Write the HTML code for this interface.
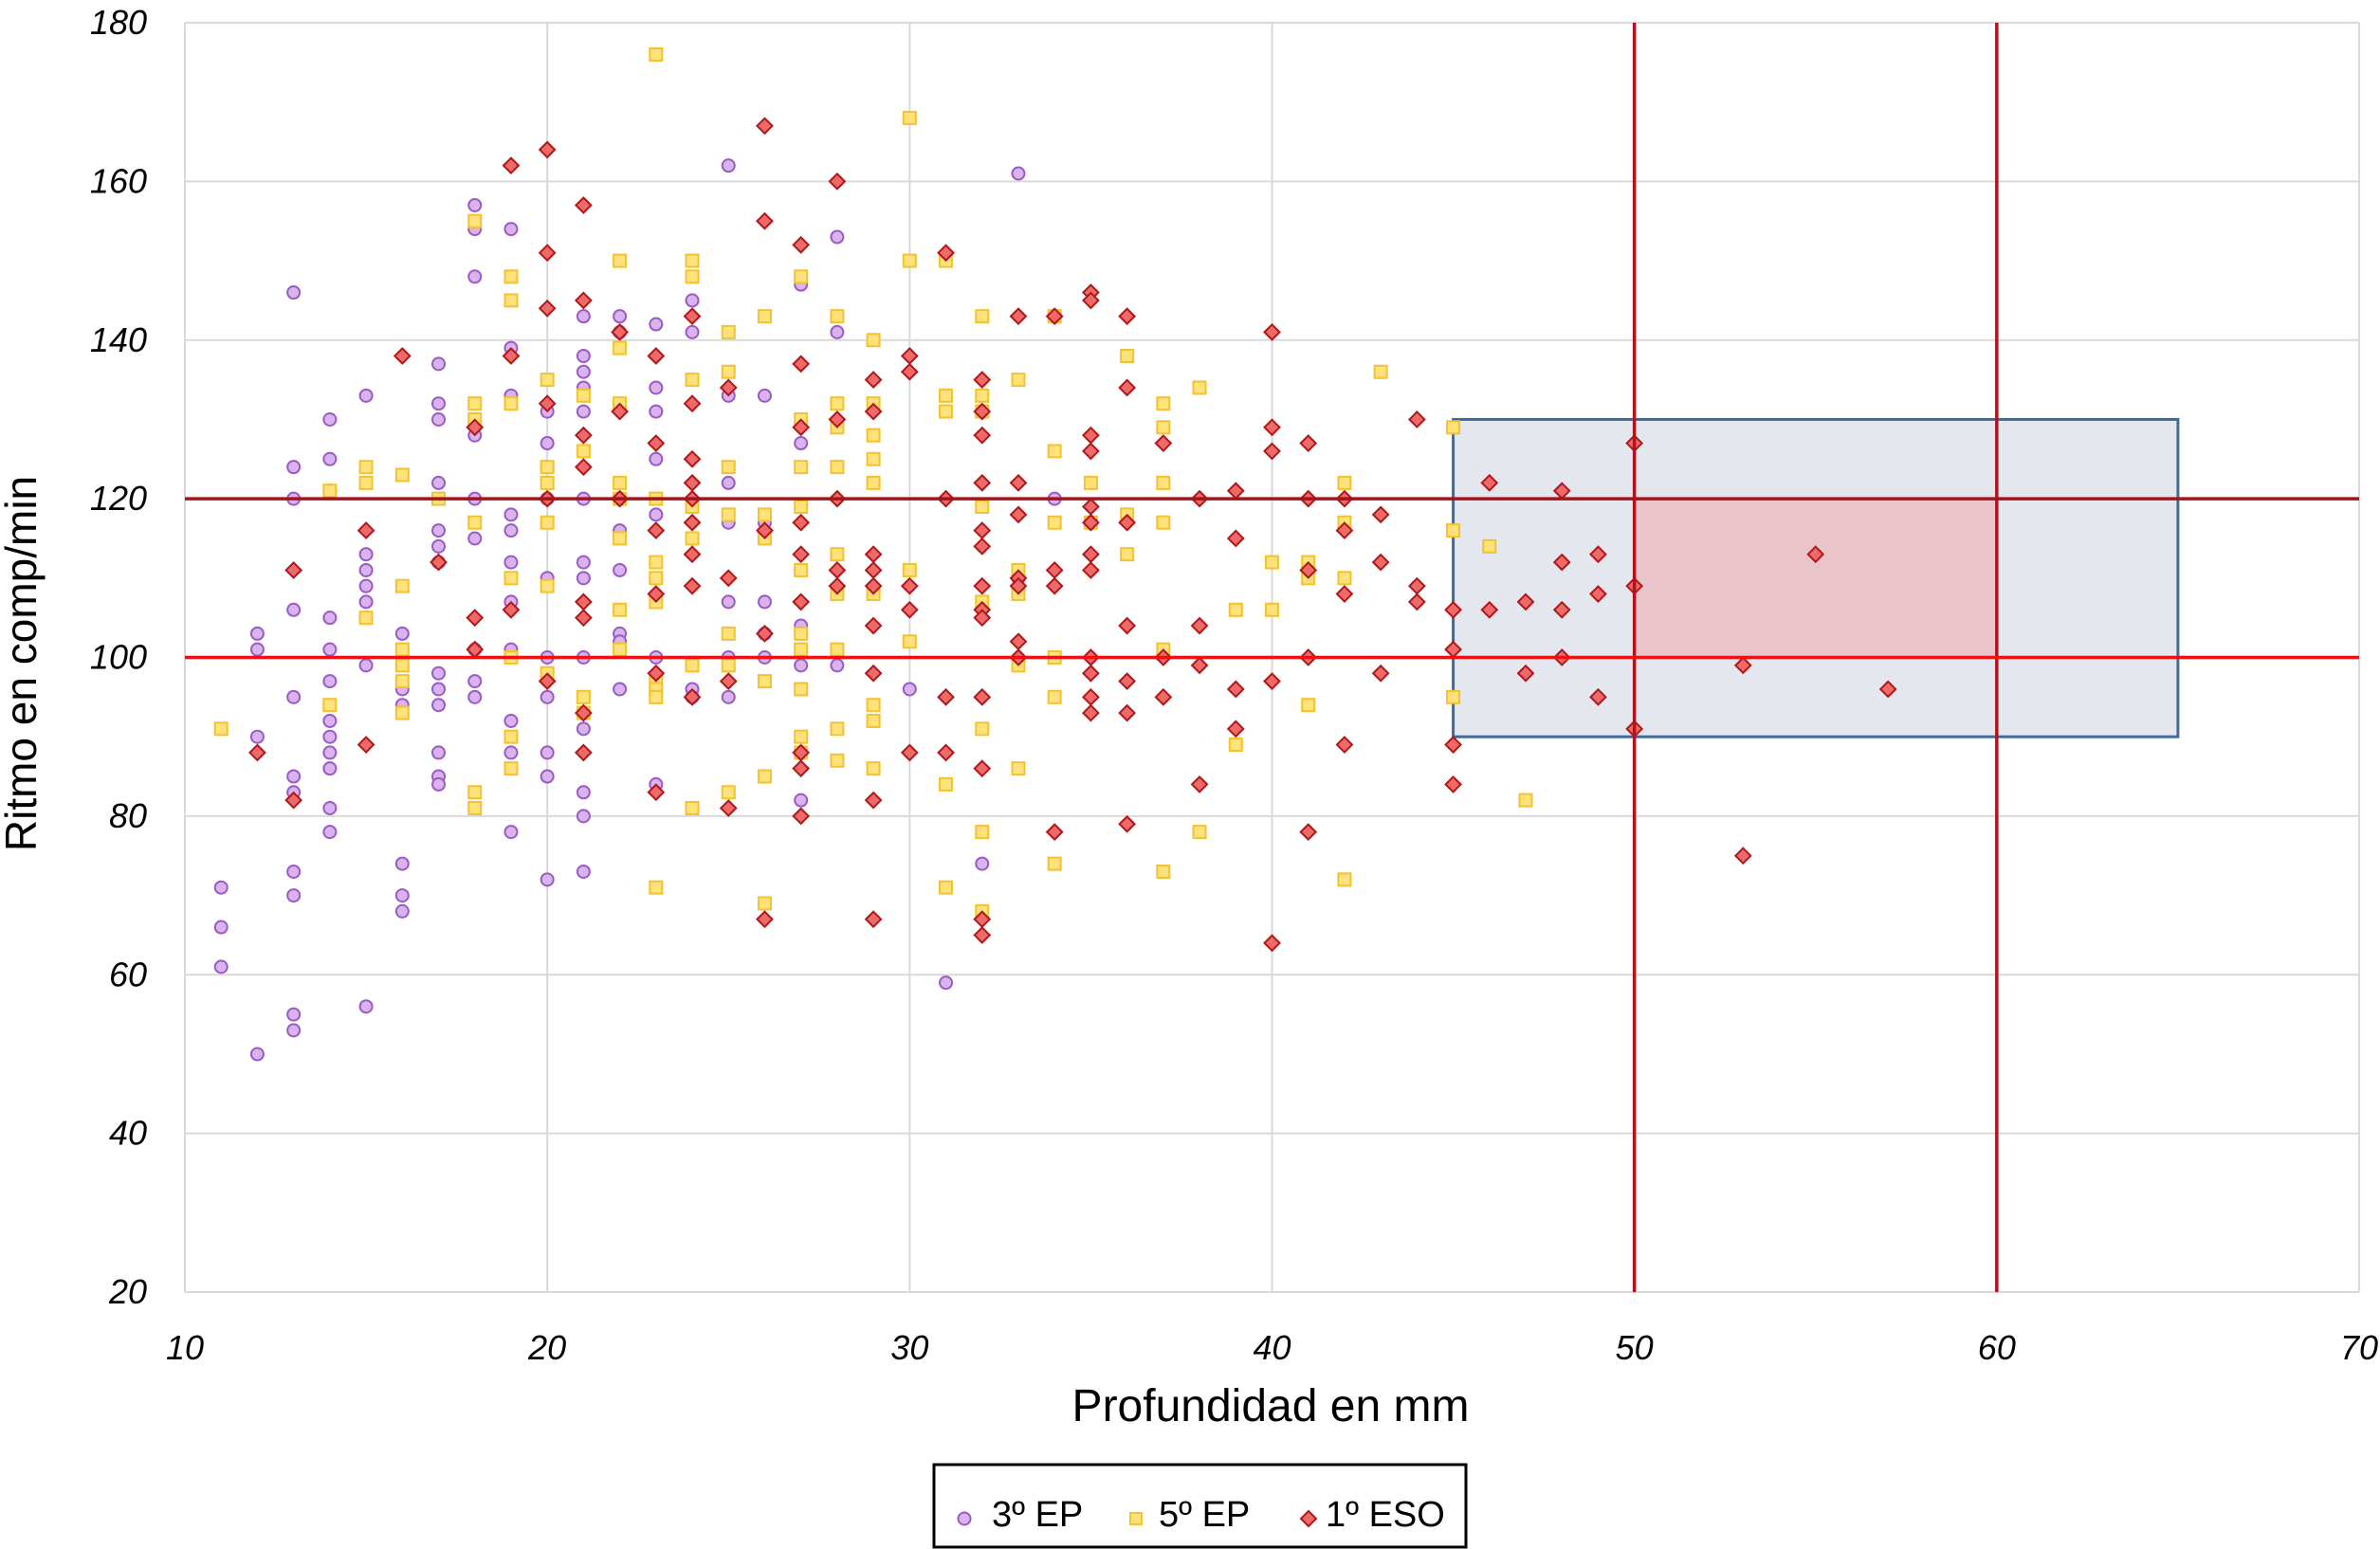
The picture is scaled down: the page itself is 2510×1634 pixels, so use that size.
<!DOCTYPE html>
<html><head><meta charset="utf-8"><style>
html,body{margin:0;padding:0;background:#fff;}
svg{display:block;font-family:"Liberation Sans",sans-serif;}
</style></head><body>
<svg id="chart" width="2510" height="1634" viewBox="0 0 2510 1634" xmlns="http://www.w3.org/2000/svg">
<g id="grid"></g>
<g id="zones"></g>
<g id="marks"></g>
<g id="refs"></g>
<g id="axes"></g>
<text x="1340" y="1499" font-size="48" text-anchor="middle" fill="#000">Profundidad en mm</text>
<text transform="translate(38,700) rotate(-90)" font-size="46" text-anchor="middle" fill="#000">Ritmo en comp/min</text>
<g>
<rect x="985" y="1545" width="561" height="87" fill="#fff" stroke="#000" stroke-width="3"/>
<g>
<circle cx="1017" cy="1602" r="6.5" fill="#d9b3ec" stroke="#9b59c6" stroke-width="2"/>
<text x="1046" y="1610" font-size="38">3º EP</text></g>
<g>
<rect x="1192" y="1596" width="12" height="12" fill="#ffe27a" stroke="#f2c230" stroke-width="2"/>
<text x="1222" y="1610" font-size="38">5º EP</text></g>
<g>
<path d="M1380 1594 L1388 1602 L1380 1610 L1372 1602 Z" fill="#ee6a6a" stroke="#b01818" stroke-width="2"/>
<text x="1398" y="1610" font-size="38">1º ESO</text></g>
</g>
</svg>
<script>
const xTicks=[10,20,30,40,50,60,70];
const yTicks=[20,40,60,80,100,120,140,160,180];
const ep3=[[11,71],[11,66],[11,61],[12,103],[12,101],[12,90],[12,50],[13,146],[13,124],[13,120],[13,106],[13,95],[13,85],[13,83],[13,73],[13,70],[13,55],[13,53],[14,130],[14,125],[14,121],[14,105],[14,101],[14,97],[14,92],[14,90],[14,88],[14,86],[14,81],[14,78],[15,133],[15,113],[15,111],[15,109],[15,107],[15,105],[15,99],[15,56],[16,103],[16,96],[16,94],[16,74],[16,70],[16,68],[17,137],[17,132],[17,130],[17,122],[17,116],[17,114],[17,112],[17,98],[17,96],[17,94],[17,88],[17,85],[17,84],[18,157],[18,154],[18,148],[18,128],[18,120],[18,115],[18,101],[18,97],[18,95],[19,154],[19,139],[19,133],[19,118],[19,116],[19,112],[19,107],[19,101],[19,92],[19,88],[19,78],[20,131],[20,127],[20,124],[20,120],[20,110],[20,100],[20,95],[20,88],[20,85],[20,72],[21,143],[21,138],[21,136],[21,134],[21,131],[21,120],[21,112],[21,110],[21,100],[21,95],[21,91],[21,83],[21,80],[21,73],[22,143],[22,141],[22,132],[22,116],[22,111],[22,103],[22,102],[22,96],[23,142],[23,134],[23,131],[23,125],[23,118],[23,100],[23,84],[24,145],[24,141],[24,96],[24,95],[25,162],[25,133],[25,122],[25,117],[25,107],[25,100],[25,95],[26,133],[26,117],[26,107],[26,103],[26,100],[27,147],[27,127],[27,111],[27,104],[27,99],[27,82],[28,153],[28,141],[28,124],[28,99],[30,96],[31,59],[32,74],[33,161],[33,110],[34,120]];
const ep5=[[11,91],[14,121],[14,94],[15,124],[15,122],[15,105],[16,123],[16,109],[16,101],[16,99],[16,97],[16,93],[17,120],[18,155],[18,132],[18,130],[18,117],[18,83],[18,81],[19,148],[19,145],[19,132],[19,110],[19,100],[19,90],[19,86],[20,135],[20,124],[20,122],[20,117],[20,109],[20,98],[21,133],[21,126],[21,95],[21,93],[22,150],[22,139],[22,132],[22,122],[22,120],[22,115],[22,106],[22,101],[23,176],[23,120],[23,112],[23,110],[23,107],[23,97],[23,96],[23,95],[23,71],[24,150],[24,148],[24,135],[24,119],[24,115],[24,99],[24,81],[25,141],[25,136],[25,124],[25,118],[25,103],[25,99],[25,83],[26,143],[26,118],[26,115],[26,97],[26,85],[26,69],[27,148],[27,130],[27,124],[27,119],[27,111],[27,103],[27,101],[27,96],[27,90],[27,88],[28,143],[28,132],[28,129],[28,124],[28,113],[28,108],[28,101],[28,91],[28,87],[29,140],[29,132],[29,128],[29,125],[29,122],[29,108],[29,94],[29,92],[29,86],[30,168],[30,150],[30,111],[30,102],[31,150],[31,133],[31,131],[31,84],[31,71],[32,143],[32,133],[32,131],[32,119],[32,107],[32,91],[32,78],[32,68],[33,135],[33,111],[33,108],[33,99],[33,86],[34,143],[34,126],[34,117],[34,100],[34,95],[34,74],[35,122],[35,117],[36,138],[36,118],[36,113],[37,132],[37,129],[37,122],[37,117],[37,101],[37,73],[38,134],[38,78],[39,106],[39,89],[40,112],[40,106],[41,112],[41,110],[41,94],[42,122],[42,117],[42,110],[42,72],[43,136],[45,129],[45,116],[45,95],[46,114],[47,82]];
const eso1=[[12,88],[13,111],[13,82],[15,116],[15,89],[16,138],[17,112],[18,129],[18,105],[18,101],[19,162],[19,138],[19,106],[20,164],[20,151],[20,144],[20,132],[20,120],[20,97],[21,157],[21,145],[21,128],[21,124],[21,107],[21,105],[21,93],[21,88],[22,141],[22,131],[22,120],[23,138],[23,127],[23,116],[23,108],[23,98],[23,83],[24,143],[24,132],[24,125],[24,122],[24,120],[24,117],[24,113],[24,109],[24,95],[25,134],[25,110],[25,97],[25,81],[26,167],[26,155],[26,116],[26,103],[26,67],[27,152],[27,137],[27,129],[27,117],[27,113],[27,107],[27,88],[27,86],[27,80],[28,160],[28,130],[28,120],[28,111],[28,109],[29,135],[29,131],[29,113],[29,111],[29,109],[29,104],[29,98],[29,82],[29,67],[30,138],[30,136],[30,109],[30,106],[30,88],[31,151],[31,120],[31,95],[31,88],[32,135],[32,131],[32,128],[32,122],[32,116],[32,114],[32,109],[32,106],[32,105],[32,95],[32,86],[32,67],[32,65],[33,143],[33,122],[33,118],[33,110],[33,109],[33,102],[33,100],[34,143],[34,111],[34,109],[34,78],[35,146],[35,145],[35,128],[35,126],[35,119],[35,117],[35,113],[35,111],[35,100],[35,98],[35,95],[35,93],[36,143],[36,134],[36,117],[36,104],[36,97],[36,93],[36,79],[37,127],[37,100],[37,95],[38,120],[38,104],[38,99],[38,84],[39,121],[39,115],[39,96],[39,91],[40,141],[40,129],[40,126],[40,97],[40,64],[41,127],[41,120],[41,111],[41,100],[41,78],[42,120],[42,116],[42,108],[42,89],[43,118],[43,112],[43,98],[44,130],[44,109],[44,107],[45,106],[45,101],[45,89],[45,84],[46,122],[46,106],[47,107],[47,98],[48,121],[48,112],[48,106],[48,100],[49,113],[49,108],[49,95],[50,127],[50,109],[50,91],[53,99],[53,75],[55,113],[57,96]];
const boxX=[45,65], boxY=[90,130], pinkX=[50,60], pinkY=[100,120];
const vLines=[50,60], hLineDark=120, hLineRed=100;

const NS="http://www.w3.org/2000/svg";
const X0=195,X1=2488,Y0=1363,Y1=24;
const sx=v=>X0+(v-10)/60*(X1-X0);
const sy=v=>Y0-(v-20)/160*(Y0-Y1);
function mk(tag,attrs,parent){const e=document.createElementNS(NS,tag);for(const k in attrs)e.setAttribute(k,attrs[k]);parent.appendChild(e);return e;}
const grid=document.getElementById('grid'),axes=document.getElementById('axes'),marks=document.getElementById('marks'),zones=document.getElementById('zones'),refs=document.getElementById('refs');
xTicks.forEach(t=>{
  const l=mk('line',{x1:sx(t),x2:sx(t),y1:Y1,y2:Y0,stroke:'#d9d9d9','stroke-width':2},grid);
  
  
  const tx=mk('text',{x:sx(t),y:1434,'font-size':36,'font-style':'italic','text-anchor':'middle',fill:'#000'},axes);
  tx.textContent=t;
  
  
});
yTicks.forEach(t=>{
  const l=mk('line',{x1:X0,x2:X1,y1:sy(t),y2:sy(t),stroke:'#d9d9d9','stroke-width':2},grid);
  
  
  const tx=mk('text',{x:155,y:sy(t)+12,'font-size':36,'font-style':'italic','text-anchor':'end',fill:'#000'},axes);
  tx.textContent=t;
  
  
});
const box=mk('rect',{x:sx(boxX[0]),y:sy(boxY[1]),width:sx(boxX[1])-sx(boxX[0]),height:sy(boxY[0])-sy(boxY[1]),fill:'#e4e8ee',stroke:'#3e6a9c','stroke-width':3},zones);


const pink=mk('rect',{x:sx(pinkX[0]),y:sy(pinkY[1]),width:sx(pinkX[1])-sx(pinkX[0]),height:sy(pinkY[0])-sy(pinkY[1]),fill:'#e9c5cb'},zones);


function draw(arr,type,name){arr.forEach(p=>{const x=sx(p[0]),y=sy(p[1]);let e;
 if(type==='c')e=mk('circle',{cx:x,cy:y,r:6.5,fill:'#d9b3ec',stroke:'#9b59c6','stroke-width':2},marks);
 else if(type==='s')e=mk('rect',{x:x-6.5,y:y-6.5,width:13,height:13,fill:'#ffe27a',stroke:'#f2c230','stroke-width':2},marks);
 else e=mk('path',{d:`M${x} ${y-8}L${x+8} ${y}L${x} ${y+8}L${x-8} ${y}Z`,fill:'#ee6a6a',stroke:'#b01818','stroke-width':2},marks);
 
 });}
draw(ep3,'c','point-3ep');draw(ep5,'s','point-5ep');draw(eso1,'d','point-1eso');
vLines.forEach(v=>{const l=mk('line',{x1:sx(v),x2:sx(v),y1:Y1,y2:Y0,stroke:'#b2121b','stroke-width':3.5},refs);
 
 });
const h1=mk('line',{x1:X0,x2:X1,y1:sy(hLineDark),y2:sy(hLineDark),stroke:'#a3141c','stroke-width':3.5},refs);


const h2=mk('line',{x1:X0,x2:X1,y1:sy(hLineRed),y2:sy(hLineRed),stroke:'#ee1111','stroke-width':3.5},refs);


</script>
</body></html>
